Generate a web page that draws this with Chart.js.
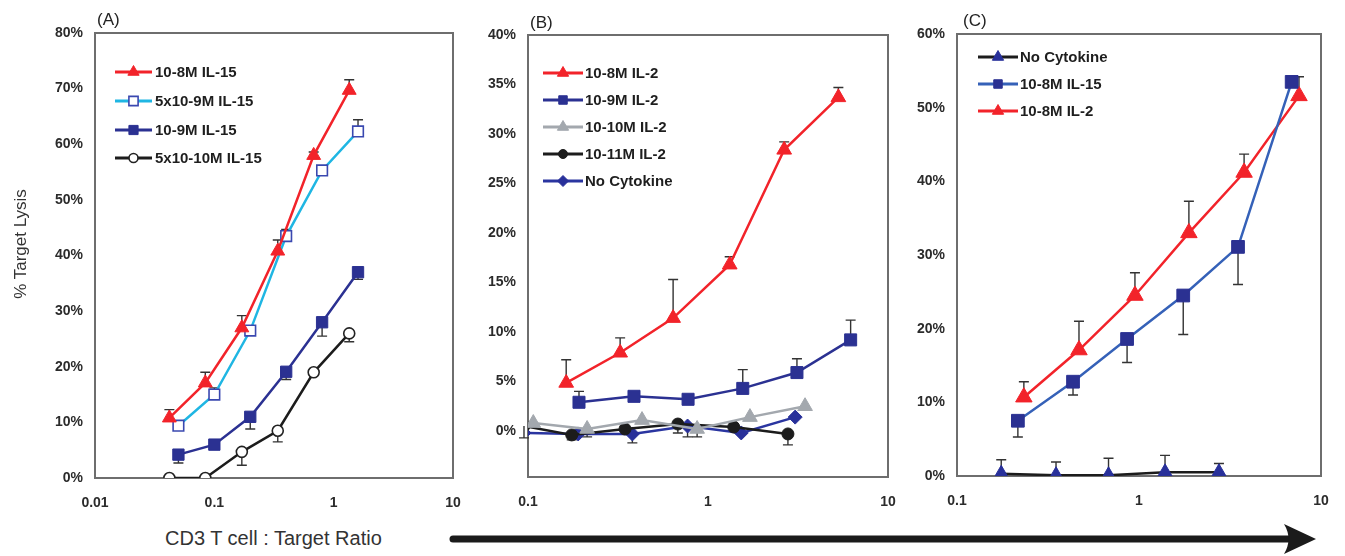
<!DOCTYPE html>
<html><head><meta charset="utf-8">
<script src="https://cdn.jsdelivr.net/npm/chart.js@4.4.1/dist/chart.umd.min.js"></script>
<style>
body{margin:0;background:#fff;width:1345px;height:556px;overflow:hidden;position:relative;font-family:"Liberation Sans",Arial,sans-serif;}
.c{position:absolute;top:0;}
.lbl{position:absolute;font-size:17px;line-height:17px;color:#222;white-space:nowrap;}
</style></head><body>
<div class="c" style="left:0px;width:465px;height:520px"><canvas id="cA" width="465" height="520"></canvas></div>
<div class="c" style="left:470px;width:430px;height:520px"><canvas id="cB" width="430" height="520"></canvas></div>
<div class="c" style="left:900px;width:445px;height:520px"><canvas id="cC" width="445" height="520"></canvas></div>
<div class="lbl" style="left:97px;top:11px">(A)</div>
<div class="lbl" style="left:530px;top:14px">(B)</div>
<div class="lbl" style="left:963px;top:12px">(C)</div>
<div class="lbl" style="left:20px;top:244px;transform:translate(-50%,-50%) rotate(-90deg);color:#333;">% Target Lysis</div>
<div class="lbl" style="left:165px;top:527px;font-size:20px;line-height:22px;color:#333;">CD3 T cell : Target Ratio</div>
<svg style="position:absolute;left:0;top:0" width="1345" height="556">
  <line x1="453" y1="539" x2="1295" y2="539" stroke="#1b1b1b" stroke-width="7" stroke-linecap="round"/>
  <path d="M1316,539 L1284,524 Q1293,539 1284,554 Z" fill="#1b1b1b"/>
</svg>
<script>
// ---------- Tick labels ----------
const xTicksA = [0.01, 0.1, 1, 10];
const xTickLabelsA = ["0.01", "0.1", "1", "10"];
const xTicksBC = [0.1, 1, 10];
const xTickLabelsBC = ["0.1", "1", "10"];
const yTicksA = [0, 10, 20, 30, 40, 50, 60, 70, 80];
const yTicksB = [0, 5, 10, 15, 20, 25, 30, 35, 40];
const yTicksC = [0, 10, 20, 30, 40, 50, 60];

// ---------- Panel A (IL-15) ----------
const seriesNamesA = ["10-8M IL-15", "5x10-9M IL-15", "10-9M IL-15", "5x10-10M IL-15"];
const xA1 = [0.042, 0.084, 0.17, 0.34, 0.68, 1.35];
const xA2 = [0.05, 0.1, 0.2, 0.4, 0.8, 1.6];
const a_1e8 = [10.8, 17.1, 27.0, 40.8, 58.0, 69.7];
const a_1e8_hi = [12.3, 19.0, 29.2, 42.8, 58.6, 71.6];
const a_5e9 = [9.4, 15.0, 26.5, 43.5, 55.3, 62.3];
const a_5e9_hi = [null, 16.2, null, 44.7, null, 64.4];
const a_1e9 = [4.2, 6.0, 11.0, 19.1, 28.0, 37.0];
const a_1e9_lo = [2.7, null, 8.8, 17.7, 25.5, 35.7];
const a_5e10 = [0, 0, 4.7, 8.5, 19.0, 26.0];
const a_5e10_lo = [null, null, 2.3, 6.5, null, 24.5];

// ---------- Panel B (IL-2) ----------
const seriesNamesB = ["10-8M IL-2", "10-9M IL-2", "10-10M IL-2", "10-11M IL-2", "No Cytokine"];
const xB_1e8 = [0.163, 0.325, 0.64, 1.32, 2.65, 5.3];
const b_1e8 = [4.85, 7.9, 11.4, 16.8, 28.4, 33.7];
const b_1e8_hi = [7.2, 9.4, 15.3, 17.6, 29.2, 34.7];
const xB_1e9 = [0.192, 0.388, 0.775, 1.56, 3.12, 6.2];
const b_1e9 = [2.9, 3.5, 3.2, 4.3, 5.9, 9.2];
const b_1e9_hi = [4.0, null, null, 6.2, 7.3, 11.2];
const xB_1e10 = [0.107, 0.213, 0.43, 0.87, 1.71, 3.46];
const b_1e10 = [0.8, 0.2, 1.1, 0.2, 1.4, 2.5];
const b_1e10_lo = [null, -0.6, null, -0.6, null, null];
const xB_1e11 = [0.095, 0.175, 0.346, 0.68, 1.39, 2.78];
const b_1e11 = [0.5, -0.4, 0.2, 0.7, 0.4, -0.3];
const b_1e11_lo = [-0.7, -0.9, null, -0.2, null, -1.4];
const xB_none = [0.095, 0.19, 0.38, 0.77, 1.53, 3.05];
const b_none = [-0.2, -0.3, -0.3, 0.5, -0.2, 1.4];
const b_none_lo = [null, null, -1.2, -0.6, null, null];

// ---------- Panel C ----------
const seriesNamesC = ["No Cytokine", "10-8M IL-15", "10-8M IL-2"];
const xC_none = [0.175, 0.35, 0.68, 1.39, 2.75];
const c_none = [0.3, 0.1, 0.1, 0.5, 0.5];
const c_none_hi = [2.2, 1.9, 2.4, 2.8, 1.7];
const xC_il15 = [0.216, 0.434, 0.86, 1.75, 3.5, 6.9];
const c_il15 = [7.5, 12.8, 18.6, 24.5, 31.1, 53.5];
const c_il15_lo = [5.3, 11.0, 15.4, 19.2, 26.0, null];
const xC_il2 = [0.233, 0.468, 0.95, 1.88, 3.78, 7.57];
const c_il2 = [10.7, 17.1, 24.5, 33.0, 41.2, 51.6];
const c_il2_hi = [12.8, 21.0, 27.6, 37.3, 43.7, 54.2];

// ---------- styles ----------
const RED = '#f2232a', CYAN = '#1fb6e3', NAVY = '#2b3192', BLUE = '#3561b8', GRAY = '#a3a8ae', BLACK = '#1c1c1c';
Chart.defaults.font.family = '"Liberation Sans", Arial, sans-serif';

function pts(xs, ys) { return xs.map((x, i) => ({ x: x, y: ys[i] })); }

function drawMarker(ctx, style, x, y, r, fill, stroke, bw) {
  ctx.beginPath();
  if (style === 'triangle') {
    for (let k = 0; k < 3; k++) {
      const a = k * 2 * Math.PI / 3;
      const px = x + Math.sin(a) * r, py = y - Math.cos(a) * r;
      k ? ctx.lineTo(px, py) : ctx.moveTo(px, py);
    }
    ctx.closePath();
  } else if (style === 'rect') {
    const s = r * Math.SQRT1_2; ctx.rect(x - s, y - s, 2 * s, 2 * s);
  } else if (style === 'rectRot') {
    ctx.moveTo(x, y - r); ctx.lineTo(x + r, y); ctx.lineTo(x, y + r); ctx.lineTo(x - r, y); ctx.closePath();
  } else {
    ctx.arc(x, y, r, 0, 2 * Math.PI);
  }
  ctx.fillStyle = fill; ctx.fill();
  if (bw) { ctx.lineWidth = bw; ctx.strokeStyle = stroke; ctx.stroke(); }
}

const boxPlugin = {
  id: 'box',
  beforeDatasetsDraw(chart) {
    const a = chart.chartArea, ctx = chart.ctx;
    ctx.save(); ctx.strokeStyle = '#6e6e6e'; ctx.lineWidth = 2;
    ctx.strokeRect(a.left, a.top, a.right - a.left, a.bottom - a.top);
    ctx.restore();
  }
};
const errorPlugin = {
  id: 'errbars',
  beforeDatasetsDraw(chart) {
    const ctx = chart.ctx, xs = chart.scales.x, ys = chart.scales.y;
    ctx.save(); ctx.strokeStyle = '#333'; ctx.lineWidth = 1.4;
    chart.data.datasets.forEach(ds => {
      ['errHi', 'errLo'].forEach(k => {
        const arr = ds[k]; if (!arr) return;
        arr.forEach((v, i) => {
          if (v == null) return;
          const px = xs.getPixelForValue(ds.data[i].x);
          const py = ys.getPixelForValue(ds.data[i].y);
          const pe = ys.getPixelForValue(v);
          ctx.beginPath(); ctx.moveTo(px, py); ctx.lineTo(px, pe);
          ctx.moveTo(px - 5, pe); ctx.lineTo(px + 5, pe); ctx.stroke();
        });
      });
    });
    ctx.restore();
  }
};
const legendPlugin = {
  id: 'lg',
  afterDatasetsDraw(chart) {
    const o = chart.options.plugins.lg; if (!o) return;
    const ctx = chart.ctx, a = chart.chartArea;
    ctx.save();
    chart.data.datasets.forEach((ds, i) => {
      const y = a.top + o.ys[i];
      const x0 = a.left + o.x0, x1 = a.left + o.x1;
      ctx.beginPath(); ctx.moveTo(x0, y); ctx.lineTo(x1, y);
      ctx.strokeStyle = ds.borderColor; ctx.lineWidth = 3; ctx.stroke();
      drawMarker(ctx, ds.pointStyle, (x0 + x1) / 2, y, ds.legendRadius, ds.pointBackgroundColor, ds.pointBorderColor, ds.pointBorderWidth);
      ctx.fillStyle = '#1e1e1e'; ctx.font = 'bold 15px "Liberation Sans", Arial, sans-serif';
      ctx.textBaseline = 'middle'; ctx.textAlign = 'left';
      ctx.fillText(ds.label, a.left + o.tx, y + 1);
    });
    ctx.restore();
  }
};

function ds(label, xs, ys, color, style, r, lr, fill, stroke, bw, extra) {
  return Object.assign({
    label: label, data: pts(xs, ys), borderColor: color, borderWidth: 2.5,
    pointStyle: style, pointRadius: r, pointBackgroundColor: fill, pointBorderColor: stroke,
    pointBorderWidth: bw, legendRadius: lr, tension: 0, fill: false
  }, extra || {});
}

function makeChart(id, datasets, c) {
  return new Chart(document.getElementById(id), {
    type: 'line',
    data: { datasets: datasets },
    plugins: [boxPlugin, errorPlugin, legendPlugin],
    options: {
      responsive: false, animation: false, events: [],
      layout: { padding: { left: 0, top: c.padTop, right: c.padRight, bottom: 0 } },
      plugins: { legend: { display: false }, tooltip: { enabled: false }, lg: c.legend },
      scales: {
        x: {
          type: 'logarithmic', min: c.xMin, max: c.xMax,
          grid: { display: false, drawTicks: false }, border: { display: false },
          afterBuildTicks: s => { s.ticks = c.xTicks.map(v => ({ value: v })); },
          afterFit: s => { s.height = c.xHeight; s.paddingLeft = 0; s.paddingRight = 0; s.paddingTop = 0; s.paddingBottom = 0; },
          ticks: { padding: 17, color: '#2b2b2b', font: { size: 14, weight: 'bold' }, maxRotation: 0, autoSkip: false,
            callback: (v, i) => c.xLabels[i] }
        },
        y: {
          min: c.yMin, max: c.yMax,
          grid: { display: false, drawTicks: false }, border: { display: false },
          afterBuildTicks: s => { s.ticks = c.yTicks.map(v => ({ value: v })); },
          afterFit: s => { s.width = c.yWidth; s.paddingTop = 0; s.paddingBottom = 0; s.paddingLeft = 0; s.paddingRight = 0; },
          ticks: { padding: 12, color: '#2b2b2b', font: { size: 14, weight: 'bold' }, callback: v => v + '%' }
        }
      }
    }
  });
}

makeChart('cA', [
  ds(seriesNamesA[0], xA1, a_1e8, RED, 'triangle', 8, 6.5, RED, RED, 1, { errHi: a_1e8_hi }),
  ds(seriesNamesA[1], xA2, a_5e9, CYAN, 'rect', 7.5, 6.5, '#ffffff', '#3a48b0', 1.6, { errHi: a_5e9_hi }),
  ds(seriesNamesA[2], xA2, a_1e9, NAVY, 'rect', 8, 6.5, NAVY, NAVY, 1, { errLo: a_1e9_lo }),
  ds(seriesNamesA[3], xA1, a_5e10, BLACK, 'circle', 5.5, 4.5, '#ffffff', '#222', 1.6, { errLo: a_5e10_lo })
], { padTop: 33, padRight: 12, xMin: 0.01, xMax: 10, xTicks: xTicksA, xLabels: xTickLabelsA, xHeight: 42,
     yMin: 0, yMax: 80, yTicks: yTicksA, yWidth: 95,
     legend: { x0: 20, x1: 57, tx: 60, ys: [39, 68, 97, 125] } });

makeChart('cB', [
  ds(seriesNamesB[0], xB_1e8, b_1e8, RED, 'triangle', 8.5, 6.5, RED, RED, 1, { errHi: b_1e8_hi }),
  ds(seriesNamesB[1], xB_1e9, b_1e9, NAVY, 'rect', 8.5, 6, NAVY, NAVY, 1, { errHi: b_1e9_hi }),
  ds(seriesNamesB[2], xB_1e10, b_1e10, GRAY, 'triangle', 8.5, 6.5, GRAY, GRAY, 1, { errLo: b_1e10_lo }),
  ds(seriesNamesB[3], xB_1e11, b_1e11, BLACK, 'circle', 6, 4.5, BLACK, BLACK, 1, { errLo: b_1e11_lo }),
  ds(seriesNamesB[4], xB_none, b_none, '#2a35a0', 'rectRot', 7, 5.5, '#28309a', '#28309a', 1, { errLo: b_none_lo })
], { padTop: 35, padRight: 12, xMin: 0.1, xMax: 10, xTicks: xTicksBC, xLabels: xTickLabelsBC, xHeight: 43,
     yMin: -4.65, yMax: 40, yTicks: yTicksB, yWidth: 58,
     legend: { x0: 15, x1: 55, tx: 57, ys: [38, 65, 92, 119, 146] } });

makeChart('cC', [
  ds(seriesNamesC[0], xC_none, c_none, BLACK, 'triangle', 8.5, 6.5, '#28309a', '#28309a', 1, { errHi: c_none_hi }),
  ds(seriesNamesC[1], xC_il15, c_il15, BLUE, 'rect', 9, 6, NAVY, NAVY, 1, { errLo: c_il15_lo }),
  ds(seriesNamesC[2], xC_il2, c_il2, RED, 'triangle', 9.5, 6.5, RED, RED, 1, { errHi: c_il2_hi })
], { padTop: 34, padRight: 24, xMin: 0.1, xMax: 10, xTicks: xTicksBC, xLabels: xTickLabelsBC, xHeight: 44,
     yMin: 0, yMax: 60, yTicks: yTicksC, yWidth: 57,
     legend: { x0: 21, x1: 61, tx: 63, ys: [23, 50, 77] } });
</script>
</body></html>
